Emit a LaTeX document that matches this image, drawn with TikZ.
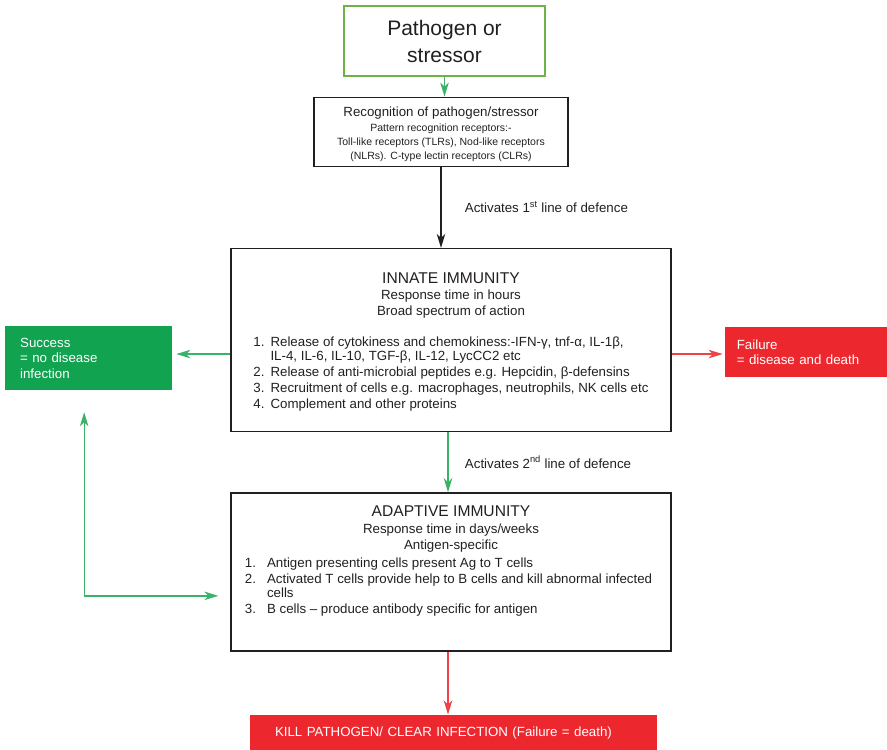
\documentclass[tikz,border=0pt]{standalone}
\usepackage{fontspec}
\setmainfont{Liberation Sans}
\usepackage{tikz}
\usetikzlibrary{arrows.meta,positioning}

\definecolor{framegreen}{RGB}{108,180,70}
\definecolor{okgreen}{RGB}{18,163,80}
\definecolor{arrowgreen}{RGB}{58,178,104}
\definecolor{badred}{RGB}{236,40,46}
\definecolor{arrowred}{RGB}{238,66,70}
\definecolor{inkgray}{RGB}{35,31,32}

% numbered list used inside the immunity boxes
\newcommand{\immlist}[3][6pt]{{\fontsize{13.3}{14}\selectfont\renewcommand{\arraystretch}{1.15}%
\begin{tabular}[t]{@{}r@{\hspace{#1}}p{#2}@{}}#3\end{tabular}}}

\begin{document}
\begin{tikzpicture}[x=1pt,y=1pt,>={Stealth[length=14pt,width=8.5pt,inset=4pt]},node distance=20pt,text=inkgray]
\tikzstyle{every node}=[font=\fontsize{13.3}{16}\selectfont]
\tikzstyle{plainbox}=[draw=inkgray,line width=1.3pt,align=center]
\tikzstyle{startbox}=[draw=framegreen,line width=1.2pt,align=center,minimum width=201pt,minimum height=70pt,font=\fontsize{21}{27}\selectfont]
\tikzstyle{goodbox}=[fill=okgreen,text=white,align=left,font=\fontsize{13.3}{15.5}\selectfont]
\tikzstyle{badbox}=[fill=badred,text=white,align=left,font=\fontsize{13.3}{15}\selectfont]
\tikzstyle{greenline}=[arrowgreen,line width=1.3pt]
\tikzstyle{redline}=[arrowred,line width=1.3pt]
\tikzstyle{steplabel}=[text=inkgray]

\useasboundingbox (0,0) rectangle (887,-750);

\node[startbox] (pathogen) at (444.5,-41) {Pathogen or\\stressor};
\node[plainbox,minimum width=254pt,minimum height=69pt,font=\fontsize{10.5}{14}\selectfont,below=20pt of pathogen,xshift=-3.5pt] (recog)
  {{\fontsize{13.3}{16}\selectfont\rule{0pt}{15.5pt}Recognition of pathogen/stressor}\\[1pt]
   Pattern recognition receptors:-\\
   Toll-like receptors (TLRs), Nod-like receptors\\
   (NLRs). C-type lectin receptors (CLRs)};
\node[plainbox,minimum width=440pt,minimum height=183pt,below=81pt of recog,xshift=10pt] (innate)
  {{\fontsize{15.6}{16}\selectfont\rule{0pt}{17pt}INNATE IMMUNITY}\\
   Response time in hours\\
   Broad spectrum of action\\[15pt]
   \immlist{378pt}{1. & Release of cytokiness and chemokiness:-IFN-γ, tnf-α, IL-1β,\newline IL-4, IL-6, IL-10, TGF-β, IL-12, LycCC2 etc\\
   2. & Release of anti-microbial peptides e.g. Hepcidin, β-defensins\\
   3. & Recruitment of cells e.g. macrophages, neutrophils, NK cells etc\\
   4. & Complement and other proteins}};
\node[goodbox,text width=137pt,inner xsep=15pt,minimum height=64pt,left=58pt of innate,yshift=-18pt] (success)
  {Success\\= no disease\\infection};
\node[badbox,text width=139pt,inner xsep=12pt,minimum height=50pt,right=53pt of innate,yshift=-12pt] (failure)
  {Failure\\= disease and death};
\node[plainbox,minimum width=440pt,minimum height=158pt,below=60pt of innate] (adaptive)
  {{\fontsize{15.6}{16}\selectfont ADAPTIVE IMMUNITY}\\[1pt]
   Response time in days/weeks\\
   Antigen-specific\\[2pt]
   \immlist[11pt]{390pt}{1. & Antigen presenting cells present Ag to T cells\\
   2. & Activated T cells provide help to B cells and kill abnormal infected\newline cells\\
   3. & B cells -- produce antibody specific for antigen}\\[18pt]
   \mbox{}};
\node[badbox,text width=357pt,inner xsep=25pt,minimum height=36pt,below=63pt of adaptive,xshift=2.5pt] (kill)
  {KILL PATHOGEN/ CLEAR INFECTION (Failure = death)};

\coordinate (backtip) at ([xshift=-4.5pt,yshift=-22pt]success.south);
\coordinate (adtip) at ([xshift=-12pt,yshift=-24pt]adaptive.west);

\draw[greenline,->] (pathogen.south) -- (pathogen.south |- recog.north);
\draw[->,draw=inkgray,line width=1.2pt] (recog.south) -- (recog.south |- innate.north)
  node[steplabel,midway,right=20pt] {Activates 1\textsuperscript{st} line of defence};
\draw[greenline,->] ([xshift=-3pt]innate.south) -- ([xshift=-3pt]innate.south |- adaptive.north)
  node[steplabel,midway,right=13pt] {Activates 2\textsuperscript{nd} line of defence};
\draw[greenline,->,shorten >=4pt] ([yshift=-14pt]innate.west) -- ([yshift=-14pt]innate.west -| success.east);
\draw[redline,->,shorten >=2pt] ([yshift=-14pt]innate.east) -- ([yshift=-14pt]innate.east -| failure.west);
\draw[redline,->] ([xshift=-3pt]adaptive.south) -- ([xshift=-3pt]adaptive.south |- kill.north);
\draw[greenline,<->] (backtip) |- (adtip);
\end{tikzpicture}
\end{document}
